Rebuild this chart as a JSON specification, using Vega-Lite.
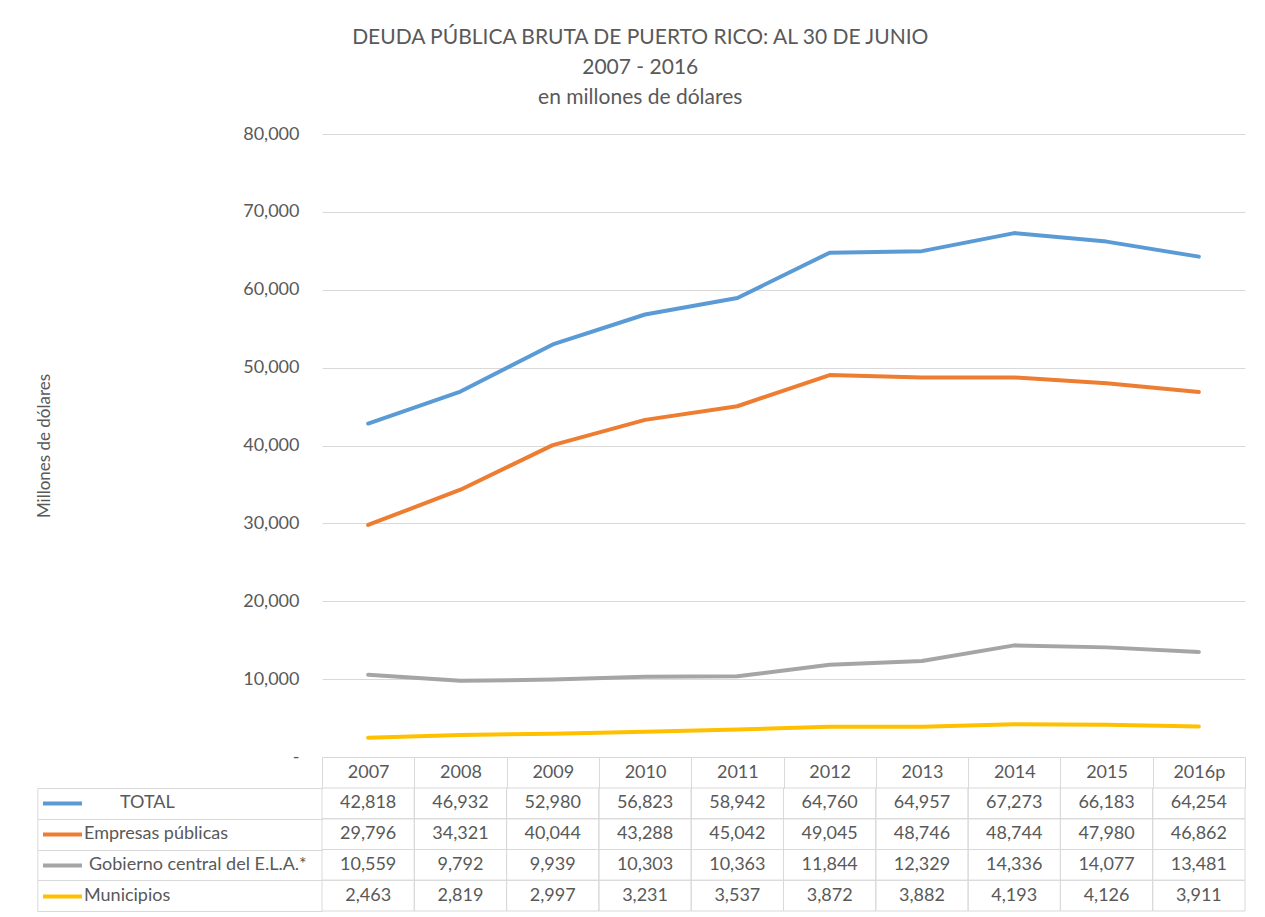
{
  "$schema": "https://vega.github.io/schema/vega-lite/v6.json",
  "background": "white",
  "padding": {"left": 35, "top": 27, "right": 20, "bottom": 5},
  "config": {"font": "Lato", "view": {"stroke": null}},
  "title": {
    "text": ["DEUDA PÚBLICA BRUTA DE PUERTO RICO: AL 30 DE JUNIO", "2007 - 2016", "en millones de dólares"],
    "fontSize": 21, "fontWeight": "normal", "color": "#595959", "lineHeight": 30,
    "anchor": "middle", "frame": "bounds", "offset": 17
  },
  "datasets": {
    "debt": [
      {"year": "2007", "series": "TOTAL", "value": 42818},
      {"year": "2008", "series": "TOTAL", "value": 46932},
      {"year": "2009", "series": "TOTAL", "value": 52980},
      {"year": "2010", "series": "TOTAL", "value": 56823},
      {"year": "2011", "series": "TOTAL", "value": 58942},
      {"year": "2012", "series": "TOTAL", "value": 64760},
      {"year": "2013", "series": "TOTAL", "value": 64957},
      {"year": "2014", "series": "TOTAL", "value": 67273},
      {"year": "2015", "series": "TOTAL", "value": 66183},
      {"year": "2016p", "series": "TOTAL", "value": 64254},
      {"year": "2007", "series": "Empresas públicas", "value": 29796},
      {"year": "2008", "series": "Empresas públicas", "value": 34321},
      {"year": "2009", "series": "Empresas públicas", "value": 40044},
      {"year": "2010", "series": "Empresas públicas", "value": 43288},
      {"year": "2011", "series": "Empresas públicas", "value": 45042},
      {"year": "2012", "series": "Empresas públicas", "value": 49045},
      {"year": "2013", "series": "Empresas públicas", "value": 48746},
      {"year": "2014", "series": "Empresas públicas", "value": 48744},
      {"year": "2015", "series": "Empresas públicas", "value": 47980},
      {"year": "2016p", "series": "Empresas públicas", "value": 46862},
      {"year": "2007", "series": "Gobierno central del E.L.A.*", "value": 10559},
      {"year": "2008", "series": "Gobierno central del E.L.A.*", "value": 9792},
      {"year": "2009", "series": "Gobierno central del E.L.A.*", "value": 9939},
      {"year": "2010", "series": "Gobierno central del E.L.A.*", "value": 10303},
      {"year": "2011", "series": "Gobierno central del E.L.A.*", "value": 10363},
      {"year": "2012", "series": "Gobierno central del E.L.A.*", "value": 11844},
      {"year": "2013", "series": "Gobierno central del E.L.A.*", "value": 12329},
      {"year": "2014", "series": "Gobierno central del E.L.A.*", "value": 14336},
      {"year": "2015", "series": "Gobierno central del E.L.A.*", "value": 14077},
      {"year": "2016p", "series": "Gobierno central del E.L.A.*", "value": 13481},
      {"year": "2007", "series": "Municipios", "value": 2463},
      {"year": "2008", "series": "Municipios", "value": 2819},
      {"year": "2009", "series": "Municipios", "value": 2997},
      {"year": "2010", "series": "Municipios", "value": 3231},
      {"year": "2011", "series": "Municipios", "value": 3537},
      {"year": "2012", "series": "Municipios", "value": 3872},
      {"year": "2013", "series": "Municipios", "value": 3882},
      {"year": "2014", "series": "Municipios", "value": 4193},
      {"year": "2015", "series": "Municipios", "value": 4126},
      {"year": "2016p", "series": "Municipios", "value": 3911}
    ]
  },
  "bounds": "flush",
  "spacing": 31,
  "resolve": {"scale": {"x": "independent", "y": "independent"}},
  "vconcat": [
    {
      "width": 923,
      "height": 623,
      "data": {"name": "debt"},
      "mark": {"type": "line", "strokeWidth": 4, "strokeCap": "round", "strokeJoin": "round"},
      "encoding": {
        "x": {"field": "year", "type": "ordinal", "sort": null, "scale": {"type": "point", "padding": 0.5}, "axis": null},
        "y": {
          "field": "value", "type": "quantitative",
          "scale": {"domain": [0, 80000], "nice": false},
          "axis": {
            "values": [0, 10000, 20000, 30000, 40000, 50000, 60000, 70000, 80000],
            "grid": true, "gridColor": "#d9d9d9", "gridWidth": 1,
            "domain": false, "ticks": false, "labelPadding": 23,
            "labelExpr": "datum.value == 0 ? '-' : format(datum.value, ',')",
            "labelFontSize": 18, "labelColor": "#595959",
            "encode": {"labels": {"update": {"dx": {"signal": "datum.value == 0 ? -10 : 0"}}}},
            "title": "Millones de dólares", "titleFontSize": 17, "titleFontWeight": "normal", "titleColor": "#595959",
            "titleX": -278, "titleY": 311.5, "titleAlign": "center", "titleBaseline": "middle", "titleAngle": 270
          }
        },
        "color": {
          "field": "series", "type": "nominal",
          "scale": {
            "domain": ["TOTAL", "Empresas públicas", "Gobierno central del E.L.A.*", "Municipios"],
            "range": ["#5B9BD5", "#ED7D31", "#A5A5A5", "#FFC000"]
          },
          "legend": {
            "orient": "none", "legendX": -281, "legendY": 654, "title": null, "padding": 0,
            "symbolType": "stroke", "symbolStrokeWidth": 4, "symbolSize": 1521,
            "clipHeight": 30.8, "rowPadding": 0, "labelOffset": 0,
            "labelFontSize": 18, "labelColor": "#595959", "labelLimit": 400,
            "encode": {"labels": {"update": {"dx": {"signal": "datum.label == 'TOTAL' ? 36 : (datum.label == 'Gobierno central del E.L.A.*' ? 5 : 0)"}}}}
          }
        }
      }
    },
    {
      "width": 923,
      "height": 123,
      "data": {"name": "debt"},
      "encoding": {
        "x": {
          "field": "year", "type": "ordinal", "sort": null,
          "scale": {"type": "band", "paddingInner": 0, "paddingOuter": 0},
          "axis": {
            "orient": "top", "tickBand": "extent", "tickSize": 31, "tickColor": "#d9d9d9",
            "domain": false, "grid": false, "labelPadding": -15.5, "labelBaseline": "middle",
            "labelAngle": 0, "labelFontSize": 18, "labelColor": "#595959", "title": null
          }
        },
        "y": {
          "field": "series", "type": "nominal",
          "sort": ["TOTAL", "Empresas públicas", "Gobierno central del E.L.A.*", "Municipios"],
          "scale": {"type": "band", "paddingInner": 0, "paddingOuter": 0},
          "axis": {
            "offset": 284.7, "tickBand": "extent", "tickSize": -284.7, "tickColor": "#d9d9d9",
            "domain": true, "domainColor": "#d9d9d9", "labels": false, "grid": false, "title": null
          }
        }
      },
      "layer": [
        {"mark": {"type": "rect", "fill": null, "fillOpacity": 0, "stroke": "#d9d9d9", "strokeWidth": 1}},
        {
          "mark": {"type": "text", "fontSize": 18, "color": "#595959"},
          "encoding": {"text": {"field": "value", "type": "quantitative", "format": ","}}
        }
      ]
    }
  ]
}
